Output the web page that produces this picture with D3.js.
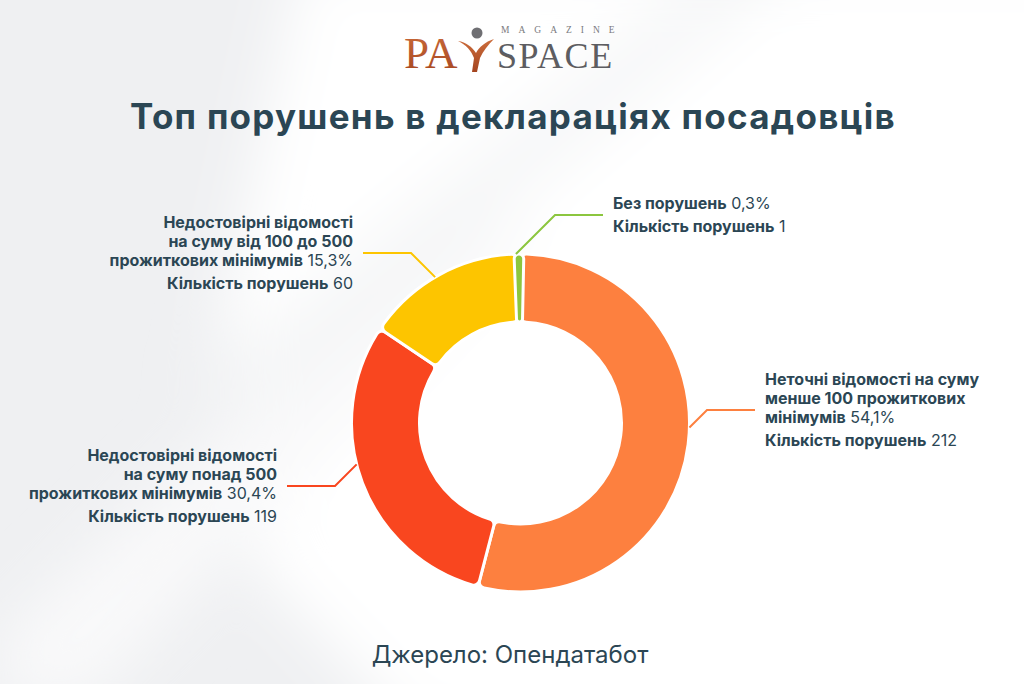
<!DOCTYPE html>
<html>
<head>
<meta charset="utf-8">
<script src="https://cdn.jsdelivr.net/npm/d3@7"></script>
<style>
  html, body { margin: 0; padding: 0; background: #ffffff; }
  svg { display: block; }
</style>
</head>
<body>
<svg id="chart" width="1024" height="684"></svg>
<script>
// ---------- DATA ----------
const categoryLines = [
  ["Неточні відомості на суму", "менше 100 прожиткових", "мінімумів"],
  ["Недостовірні відомості", "на суму понад 500", "прожиткових мінімумів"],
  ["Недостовірні відомості", "на суму від 100 до 500", "прожиткових мінімумів"],
  ["Без порушень"]
];
const shares = [54.1, 30.4, 15.3, 0.3];
const counts = [212, 119, 60, 1];
const countLabel = "Кількість порушень";
const titleText = "Топ порушень в деклараціях посадовців";
const sourceText = "Джерело: Опендатабот";

// ---------- STYLE / LAYOUT ----------
const sliceColors = ["#FD803F", "#F9461F", "#FDC500", "#8CC63F"];
const textColor = "#2B4654";
const W = 1024, H = 684;
const cx = 520.5, cy = 423, R = 169, r = 101;
const labelLayout = [
  { x: 765, cy: 410, anchor: "start" },
  { x: 277, cy: 486, anchor: "end" },
  { x: 353, cy: 253, anchor: "end" },
  { x: 613, cy: 215, anchor: "start" }
];
const fontFamily = "Inter, 'Noto Sans', sans-serif";

const svg = d3.select("#chart");
const defs = svg.append("defs");

// background
svg.append("rect").attr("width", W).attr("height", H).attr("fill", "#eff0f2");
const blur = defs.append("filter").attr("id", "blur").attr("x", "-20%").attr("y", "-20%").attr("width", "140%").attr("height", "140%");
blur.append("feGaussianBlur").attr("stdDeviation", 30);
const bgG = svg.append("g").attr("filter", "url(#blur)");
bgG.append("path").attr("d", "M300,-40 L1100,-40 L1100,740 L420,740 L250,560 L310,420 L220,330 Z").attr("fill", "#ffffff");
bgG.append("path").attr("d", "M470,200 L530,240 L90,700 L0,700 L0,640 Z").attr("fill", "#f9f9fa");
bgG.append("path").attr("d", "M720,-40 L800,-40 L260,420 L200,380 Z").attr("fill", "#f5f6f7");

// ---------- LOGO ----------
const logo = svg.append("g");
const logoGrad = defs.append("linearGradient").attr("id", "logoGrad").attr("x1", "0").attr("y1", "0").attr("x2", "0").attr("y2", "1");
logoGrad.append("stop").attr("offset", "0%").attr("stop-color", "#cc6d3c");
logoGrad.append("stop").attr("offset", "100%").attr("stop-color", "#a4441f");
logo.append("text").attr("x", 404).attr("y", 68)
  .attr("font-family", "'Liberation Serif', 'DejaVu Serif', serif")
  .attr("font-size", 45).attr("fill", "url(#logoGrad)").text("PA");
logo.append("path")
  .attr("d", "M458,41 C466,42 472,47 476,53 C479,47 485,42 494,39 C488,45 483,51 480,58 L477,72 L472,72 L474,58 C471,50 466,45 458,41 Z")
  .attr("fill", "url(#logoGrad)");
logo.append("circle").attr("cx", 477).attr("cy", 33).attr("r", 5.5).attr("fill", "#6f6f73");
logo.append("text").attr("x", 497).attr("y", 68)
  .attr("font-family", "'Liberation Serif', 'DejaVu Serif', serif")
  .attr("font-size", 36).attr("letter-spacing", 1.6).attr("fill", "#5d5d61").text("SPACE");
logo.append("text").attr("x", 501).attr("y", 33)
  .attr("font-family", "'Liberation Serif', 'DejaVu Serif', serif")
  .attr("font-size", 9.5).attr("letter-spacing", 9).attr("fill", "#7a7a7e").text("MAGAZINE");

// ---------- TITLE ----------
const title = svg.append("text").attr("x", 513).attr("y", 129).attr("text-anchor", "middle")
  .attr("font-family", fontFamily).attr("font-weight", 700).attr("font-size", 35)
  .attr("fill", textColor).text(titleText);
{
  const target = 766;
  const w = title.node().getComputedTextLength();
  const n = titleText.length;
  if (w < target) title.attr("letter-spacing", (target - w) / n);
}

// ---------- DONUT ----------
const data = shares.map((s, i) => ({ i, share: s, count: counts[i], lines: categoryLines[i] }));
const pie = d3.pie().sort(null).value(d => d.share);
const arcs = pie(data);
const minAngle = 0.058; // minimal visible angle for tiny slices
const arcGen = d3.arc().innerRadius(r).outerRadius(R).cornerRadius(6);
const donut = svg.append("g").attr("transform", `translate(${cx},${cy})`);
donut.selectAll("path.slice").data(arcs).join("path")
  .attr("class", "slice")
  .attr("d", d => {
    let s = d.startAngle, e = d.endAngle;
    if (e - s < minAngle) { const m = (s + e) / 2; s = m - minAngle / 2; e = m + minAngle / 2; }
    return arcGen({ startAngle: s, endAngle: e });
  })
  .attr("fill", (d, i) => sliceColors[i])
  .attr("stroke", "#ffffff").attr("stroke-width", 3).attr("stroke-linejoin", "round");

// ---------- LABELS ----------
const fmtPct = v => d3.format(".1f")(v).replace(".", ",") + "%";
const lineH = 19, countGap = 23, capH = 11.5;
const labelsG = svg.append("g").attr("font-family", fontFamily).attr("font-size", 16).attr("fill", textColor);

arcs.forEach((a, i) => {
  const L = labelLayout[i];
  const d = a.data;
  const nLines = d.lines.length;
  const blockH = capH + (nLines - 1) * lineH + countGap;
  const b0 = L.cy - blockH / 2 + capH;
  const t = labelsG.append("text").attr("text-anchor", L.anchor);
  d.lines.forEach((ln, k) => {
    const ts = t.append("tspan").attr("x", L.x).attr("y", b0 + k * lineH);
    ts.append("tspan").attr("font-weight", 700).text(ln);
    if (k === nLines - 1) ts.append("tspan").attr("font-weight", 400).text(" " + fmtPct(d.share));
  });
  const tc = labelsG.append("text").attr("text-anchor", L.anchor)
    .attr("x", L.x).attr("y", b0 + (nLines - 1) * lineH + countGap);
  tc.append("tspan").attr("font-weight", 700).text(countLabel);
  tc.append("tspan").attr("font-weight", 400).text(" " + d.count);

  // connector
  const dir = L.anchor === "start" ? 1 : -1;
  const x0 = L.x - dir * 10, x1 = L.x - dir * 58, y1 = L.cy;
  const sx = Math.sign(cx - x1), sy = Math.sign(cy - y1);
  const ux = x1 - cx, uy = y1 - cy;
  const A = 2, B = 2 * (ux * sx + uy * sy), C = ux * ux + uy * uy - R * R;
  const tt = (-B - Math.sqrt(B * B - 4 * A * C)) / (2 * A);
  const x2 = x1 + sx * tt, y2 = y1 + sy * tt;
  svg.append("path")
    .attr("d", d3.line()([[x0, y1], [x1, y1], [x2, y2]]))
    .attr("fill", "none").attr("stroke", sliceColors[i]).attr("stroke-width", 2);
});

// ---------- SOURCE ----------
svg.append("text").attr("x", 510).attr("y", 663).attr("text-anchor", "middle")
  .attr("font-family", fontFamily).attr("font-size", 24).attr("font-weight", 400)
  .attr("fill", textColor).text(sourceText);
</script>
</body>
</html>
